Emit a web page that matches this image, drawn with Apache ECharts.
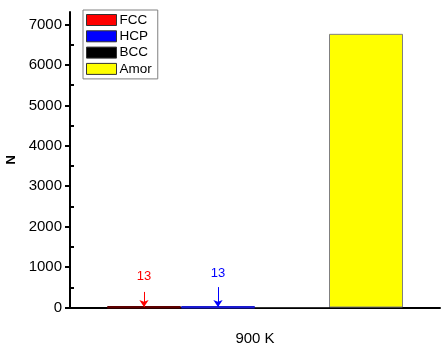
<!DOCTYPE html>
<html>
<head>
<meta charset="utf-8">
<script src="https://cdn.jsdelivr.net/npm/echarts@6/dist/echarts.min.js"></script>
<style>
  html, body { margin: 0; padding: 0; background: #fff; }
  #chart { width: 441px; height: 346px; }
</style>
</head>
<body>
<div id="chart"></div>
<script>
// Atom counts by local structure type at 900 K
const categories = ['900 K'];
const phases = ['FCC', 'HCP', 'BCC', 'Amor'];
const fcc = [13];
const hcp = [13];
const bcc = [0];
const amor = [6770];
const yMajorTicks = [0, 1000, 2000, 3000, 4000, 5000, 6000, 7000];
const yMinorTicks = [500, 1500, 2500, 3500, 4500, 5500, 6500];

const FONT = 'Liberation Sans, Arial, sans-serif';
const Y_MAX = 7310;

// Bar with a value label and a downward arrow pointing at its top
function annotated(name, values, fill, edge, labelColor, labelDist, arrowTop) {
  return {
    name: name,
    type: 'bar',
    data: values,
    barGap: '0%',
    barCategoryGap: '20%',
    itemStyle: { color: fill, borderColor: edge, borderWidth: 2.5 },
    label: {
      show: true, position: 'top', distance: labelDist,
      formatter: '{c}', color: labelColor, fontSize: 13, fontFamily: FONT
    },
    markLine: {
      silent: true,
      symbol: ['none', 'arrow'],
      symbolSize: 7,
      label: { show: false },
      lineStyle: { color: labelColor, width: 1, type: 'solid' },
      data: [[
        { coord: [categories[0], arrowTop] },
        { coord: [categories[0], values[0]] }
      ]]
    }
  };
}

const chart = echarts.init(document.getElementById('chart'), null, { renderer: 'canvas' });
chart.setOption({
  animation: false,
  grid: { left: 70, right: 1, top: 12, bottom: 38.5, outerBoundsMode: 'none', containLabel: false },
  legend: {
    data: phases,
    orient: 'vertical',
    left: 83, top: 10,
    padding: [3, 6, 3, 3],
    itemWidth: 30, itemHeight: 11, itemGap: 2.3,
    icon: 'rect',
    itemStyle: { borderColor: '#333', borderWidth: 1 },
    borderColor: '#808080', borderWidth: 1,
    textStyle: { fontSize: 13.5, lineHeight: 14, fontFamily: FONT, color: '#000', padding: [0, 0, 0, -2] }
  },
  xAxis: {
    type: 'category',
    data: categories,
    axisLine: { lineStyle: { color: '#000', width: 2 } },
    axisTick: { alignWithLabel: true, length: 6, lineStyle: { color: '#000', width: 2 } },
    axisLabel: { color: '#000', fontSize: 15, fontFamily: FONT, margin: 24 }
  },
  yAxis: [{
    type: 'value',
    min: 0, max: Y_MAX,
    name: 'N',
    nameLocation: 'middle',
    nameGap: 51,
    nameTextStyle: { fontSize: 13, fontWeight: 'bold', fontFamily: FONT, color: '#000' },
    splitLine: { show: false },
    axisLine: { show: true, lineStyle: { color: '#000', width: 2 } },
    axisTick: { show: true, length: 5, customValues: yMajorTicks, lineStyle: { color: '#000', width: 2 } },
    axisLabel: {
      customValues: yMajorTicks, color: '#000', fontSize: 15, fontFamily: FONT, margin: 8,
      formatter: function (v) { return String(v); }
    }
  }, {
    type: 'value',
    min: 0, max: Y_MAX,
    position: 'left',
    splitLine: { show: false },
    axisLine: { show: false },
    axisTick: { show: true, inside: true, length: 4, customValues: yMinorTicks, lineStyle: { color: '#000', width: 2 } },
    axisLabel: { show: false }
  }],
  series: [
    annotated('FCC', fcc, '#ff0000', '#5c0000', '#ff0000', 23, 385),
    annotated('HCP', hcp, '#0000ff', '#1a1ad0', '#0000ff', 26, 505),
    {
      name: 'BCC', type: 'bar', data: bcc, barGap: '0%', barCategoryGap: '20%',
      itemStyle: { color: '#000000', borderColor: '#333', borderWidth: 1 }
    },
    {
      name: 'Amor', type: 'bar', data: amor, barGap: '0%', barCategoryGap: '20%',
      itemStyle: { color: '#ffff00', borderColor: '#808080', borderWidth: 1 }
    }
  ]
});
</script>
</body>
</html>
